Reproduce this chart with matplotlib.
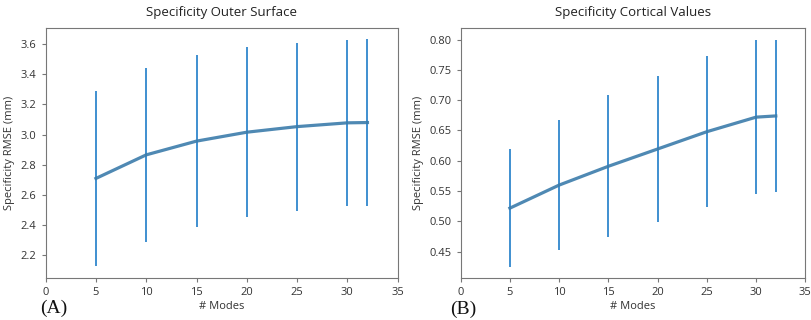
import matplotlib
matplotlib.use('Agg')
import matplotlib.pyplot as plt

plt.rcParams['font.family'] = ['Open Sans', 'DejaVu Sans']

modes = [5, 10, 15, 20, 25, 30, 32]

outer_mean = [2.71, 2.866, 2.957, 3.016, 3.053, 3.078, 3.08]
outer_err = [0.578, 0.578, 0.57, 0.562, 0.557, 0.548, 0.55]

cortical_mean = [0.522, 0.56, 0.591, 0.6195, 0.648, 0.672, 0.674]
cortical_err = [0.097, 0.107, 0.117, 0.12, 0.124, 0.127, 0.126]

text_color = '#333333'
spine_color = '#777777'

fig = plt.figure(figsize=(8.11, 3.2), dpi=100)
ax1 = fig.add_axes([0.0563, 0.131, 0.434, 0.781])
ax2 = fig.add_axes([0.568, 0.131, 0.425, 0.781])

panels = [
    (ax1, outer_mean, outer_err, 'Specificity Outer Surface', (2.05, 3.705)),
    (ax2, cortical_mean, cortical_err, 'Specificity Cortical Values', (0.4067, 0.8187)),
]

for ax, mean, err, title, ylim in panels:
    ax.errorbar(modes, mean, yerr=err, color='#3f8fd0', elinewidth=1.4,
                linewidth=0, capsize=0)
    ax.plot(modes, mean, color='#3c7cab', linewidth=2.3, alpha=0.9)
    ax.set_xlim(0, 35)
    ax.set_ylim(*ylim)
    ax.set_title(title, fontsize=9.5, color='#222222', pad=9)
    ax.set_xlabel('# Modes', fontsize=8, color=text_color, labelpad=2)
    ax.set_ylabel('Specificity RMSE (mm)', fontsize=8, color=text_color, labelpad=4)
    ax.tick_params(labelsize=8, colors=text_color, length=3, color=spine_color)
    for s in ax.spines.values():
        s.set_color(spine_color)
    ax.set_xticks(range(0, 36, 5))

ax1.set_yticks([2.2, 2.4, 2.6, 2.8, 3.0, 3.2, 3.4, 3.6])
ax2.set_yticks([0.45, 0.50, 0.55, 0.60, 0.65, 0.70, 0.75, 0.80])
ax2.set_yticklabels(['%.2f' % v for v in ax2.get_yticks()])

fig.text(0.066, 0.035, '(A)', fontsize=14, family='Liberation Serif', ha='center', va='center', color='#111111')
fig.text(0.5715, 0.032, '(B)', fontsize=14, family='Liberation Serif', ha='center', va='center', color='#111111')

fig.savefig('out.png', dpi=100)
